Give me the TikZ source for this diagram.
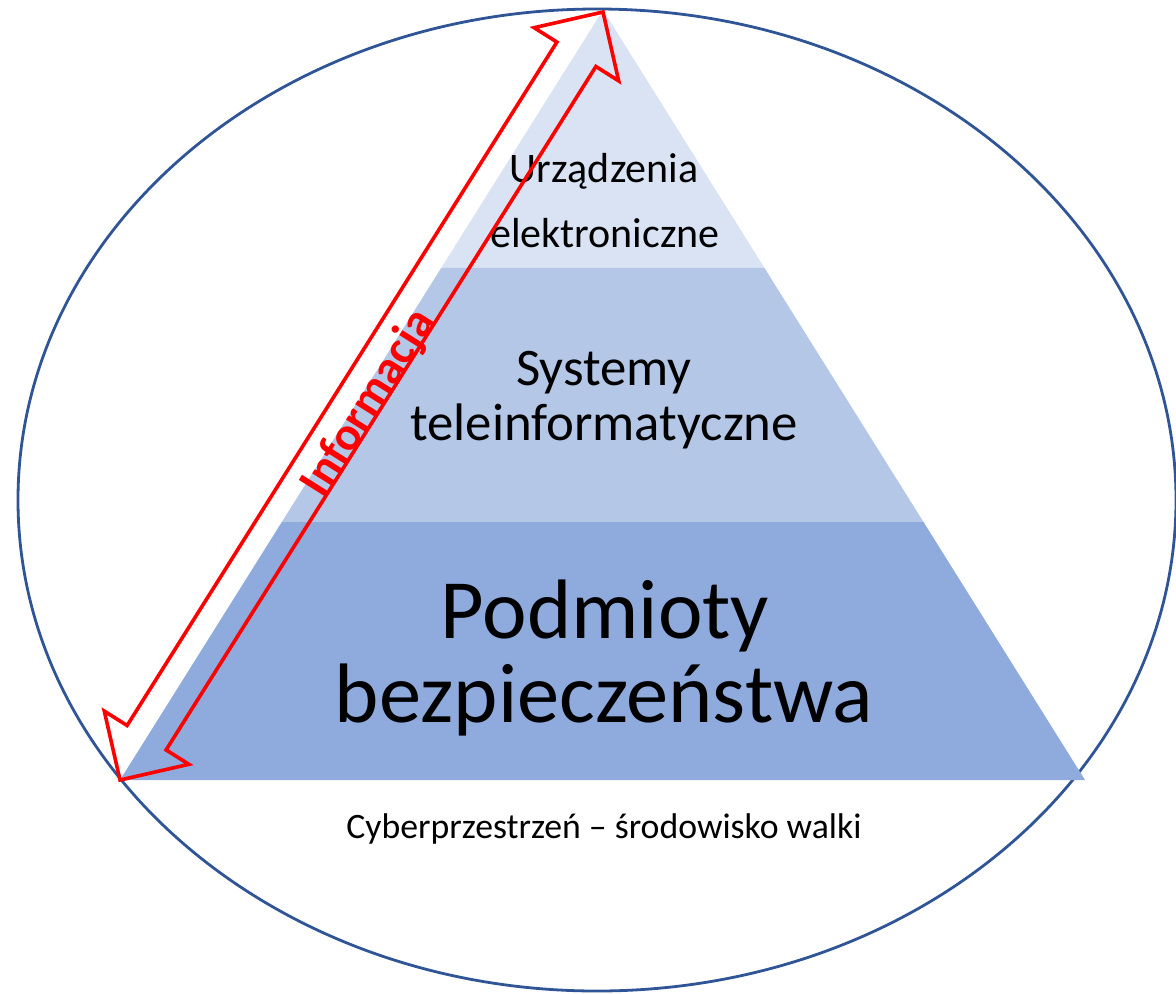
\documentclass[tikz,border=0pt]{standalone}
\usepackage{fontspec}
\setmainfont{Carlito}
\usetikzlibrary{calc}
\definecolor{topband}{HTML}{DAE3F3}
\definecolor{midband}{HTML}{B4C7E7}
\definecolor{lowband}{HTML}{8FAADC}
\definecolor{ringblue}{HTML}{2F5597}
\definecolor{arrowred}{HTML}{FF0000}
\tikzset{
  ring/.style={draw=ringblue, line width=2.1pt},
  arrowshape/.style={draw=arrowred, line width=2.7pt, line join=miter},
  label/.style={inner sep=0pt, anchor=base, text=black},
}
\begin{document}
\begin{tikzpicture}[x=0.75pt, y=-0.75pt]
\useasboundingbox (0,0) rectangle (1176,993);
% ellipse
\draw[ring] (597,500) ellipse [x radius=579, y radius=491];
% pyramid corners
\coordinate (A) at (603,10);
\coordinate (BL) at (120,780);
\coordinate (BR) at (1085,780);
\coordinate (L1) at ($(A)!0.33506!(BL)$);
\coordinate (R1) at ($(A)!0.33506!(BR)$);
\coordinate (L2) at ($(A)!0.66494!(BL)$);
\coordinate (R2) at ($(A)!0.66494!(BR)$);
\fill[topband] (A) -- (L1) -- (R1) -- cycle;
\fill[midband] (L1) -- (L2) -- (R2) -- (R1) -- cycle;
\fill[lowband] (L2) -- (BL) -- (BR) -- (R2) -- cycle;
% texts
\node[label, font=\fontsize{31.5}{31.5}\selectfont] (t1) at (604,182) {Urządzenia};
\node[label, font=\fontsize{31.5}{31.5}\selectfont] (t2) at (605,247) {elektroniczne};
\node[label, font=\fontsize{39.6}{39.6}\selectfont] (t3) at (604,385) {Systemy};
\node[label, font=\fontsize{39.6}{39.6}\selectfont] (t4) at (604,440) {teleinformatyczne};
\node[label, font=\fontsize{63.3}{63.3}\selectfont] (t5) at (605,638) {Podmioty};
\node[label, font=\fontsize{63.3}{63.3}\selectfont] (t6) at (604,722) {bezpieczeństwa};
\node[label, font=\fontsize{26.8}{26.8}\selectfont] (t7) at (604,838) {Cyberprzestrzeń – środowisko walki};
% double arrow
\draw[arrowshape] (603,12) -- (618.7,80.9) -- (595.9,66.5) -- (166.1,749.9) -- (188.9,764.3)
  -- (120,780) -- (104.3,711.1) -- (127.1,725.5) -- (556.9,42.1) -- (534.1,27.7) -- cycle;
\node[inner sep=0pt, rotate=57.8, text=arrowred, font=\bfseries\fontsize{35.5}{35.5}\selectfont] (info) at (369,403.5) {Informacja};
\end{tikzpicture}
\end{document}
